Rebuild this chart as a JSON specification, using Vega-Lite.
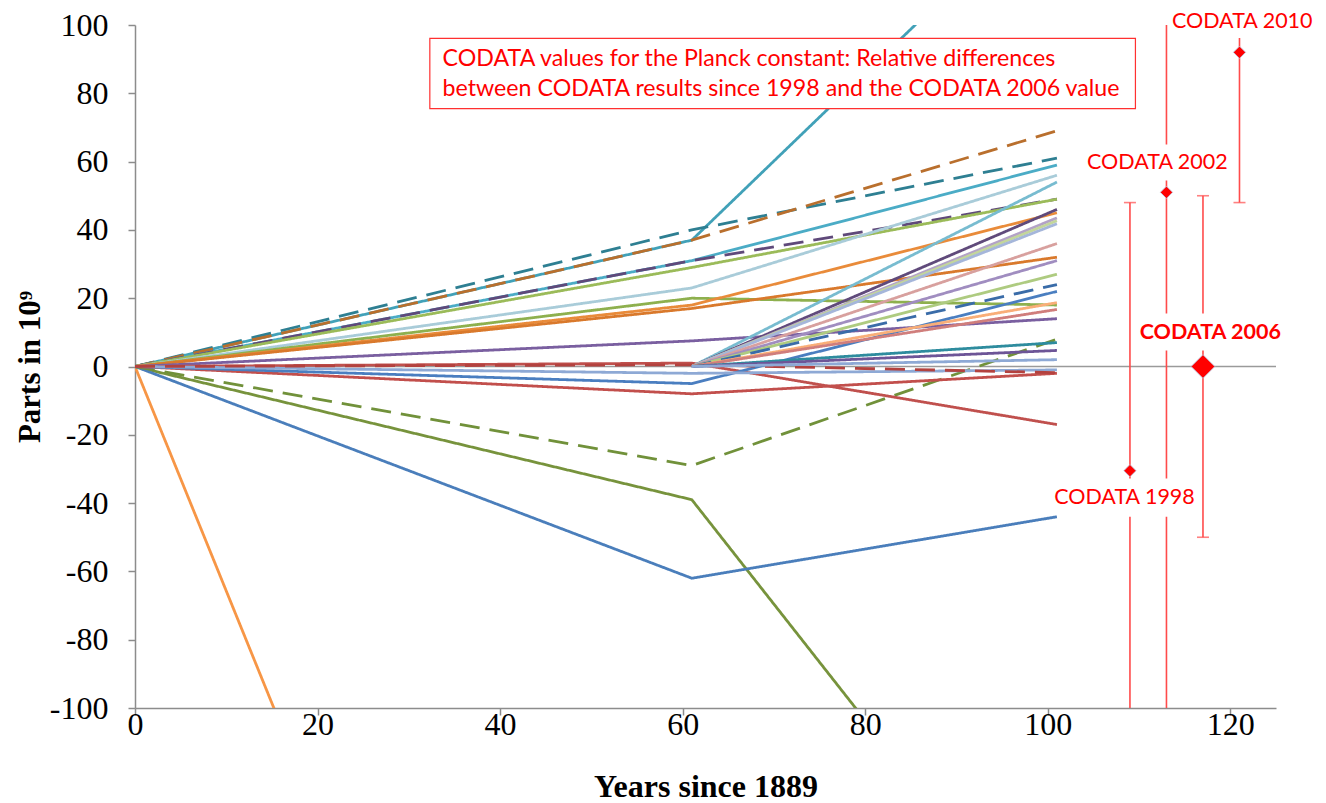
{
  "$schema": "https://vega.github.io/schema/vega-lite/v6.json",
  "autosize": {"type": "none"},
  "padding": {"left": 135, "top": 25, "right": 50, "bottom": 95},
  "width": 1141,
  "height": 683,
  "background": "white",
  "config": {
    "view": {"stroke": null},
    "axis": {
      "domainColor": "#8c8c8c", "tickColor": "#8c8c8c", "domainWidth": 1.5, "tickWidth": 1.5, "tickSize": 7,
      "grid": false, "labelFlush": false, "labelOverlap": false, "labelFont": "Liberation Serif", "labelFontSize": 32, "labelColor": "black",
      "titleFont": "Liberation Serif", "titleFontSize": 31, "titleFontWeight": "bold", "titleColor": "black"
    }
  },
  "datasets": {
    "lines": [
      {"s": "s01", "x": 0, "y": 0}, {"s": "s01", "x": 61, "y": -401},
      {"s": "s02", "x": 0, "y": 0}, {"s": "s02", "x": 61, "y": -39}, {"s": "s02", "x": 101, "y": -175},
      {"s": "s03", "x": 0, "y": 0}, {"s": "s03", "x": 61, "y": -62}, {"s": "s03", "x": 101, "y": -44},
      {"s": "s04", "x": 0, "y": 0}, {"s": "s04", "x": 61, "y": -29}, {"s": "s04", "x": 101, "y": 8},
      {"s": "s05", "x": 0, "y": 0}, {"s": "s05", "x": 61, "y": 37}, {"s": "s05", "x": 101, "y": 140},
      {"s": "s06", "x": 0, "y": 0}, {"s": "s06", "x": 61, "y": 40}, {"s": "s06", "x": 101, "y": 61},
      {"s": "s07", "x": 0, "y": 0}, {"s": "s07", "x": 61, "y": 37}, {"s": "s07", "x": 101, "y": 69},
      {"s": "s08", "x": 0, "y": 0}, {"s": "s08", "x": 61, "y": 31}, {"s": "s08", "x": 101, "y": 59},
      {"s": "s09", "x": 0, "y": 0}, {"s": "s09", "x": 61, "y": 31}, {"s": "s09", "x": 101, "y": 49},
      {"s": "s10", "x": 0, "y": 0}, {"s": "s10", "x": 61, "y": 29}, {"s": "s10", "x": 101, "y": 49},
      {"s": "s11", "x": 0, "y": 0}, {"s": "s11", "x": 61, "y": 23}, {"s": "s11", "x": 101, "y": 56},
      {"s": "s12", "x": 0, "y": 0}, {"s": "s12", "x": 61, "y": 20}, {"s": "s12", "x": 101, "y": 18},
      {"s": "s13", "x": 0, "y": 0}, {"s": "s13", "x": 61, "y": 18}, {"s": "s13", "x": 101, "y": 45},
      {"s": "s14", "x": 0, "y": 0}, {"s": "s14", "x": 61, "y": 17}, {"s": "s14", "x": 101, "y": 32},
      {"s": "s15", "x": 0, "y": 0}, {"s": "s15", "x": 61, "y": 7.5}, {"s": "s15", "x": 101, "y": 14},
      {"s": "s16", "x": 0, "y": 0}, {"s": "s16", "x": 61, "y": 1}, {"s": "s16", "x": 101, "y": -17},
      {"s": "s17", "x": 0, "y": 0}, {"s": "s17", "x": 61, "y": -8}, {"s": "s17", "x": 101, "y": -2},
      {"s": "s18", "x": 0, "y": 0}, {"s": "s18", "x": 61, "y": -5}, {"s": "s18", "x": 101, "y": 22},
      {"s": "s19", "x": 0, "y": 0}, {"s": "s19", "x": 61, "y": -2}, {"s": "s19", "x": 101, "y": -1},
      {"s": "s20", "x": 0, "y": 0}, {"s": "s20", "x": 61, "y": 0.5}, {"s": "s20", "x": 101, "y": -1.8},
      {"s": "s21", "x": 61, "y": 0}, {"s": "s21", "x": 101, "y": 54},
      {"s": "s22", "x": 61, "y": 0}, {"s": "s22", "x": 101, "y": 46},
      {"s": "s23", "x": 61, "y": 0}, {"s": "s23", "x": 101, "y": 43.5},
      {"s": "s24", "x": 61, "y": 0}, {"s": "s24", "x": 101, "y": 42.7},
      {"s": "s25", "x": 61, "y": 0}, {"s": "s25", "x": 101, "y": 41.8},
      {"s": "s26", "x": 61, "y": 0}, {"s": "s26", "x": 101, "y": 36},
      {"s": "s27", "x": 61, "y": 0}, {"s": "s27", "x": 101, "y": 31},
      {"s": "s28", "x": 61, "y": 0}, {"s": "s28", "x": 101, "y": 27},
      {"s": "s29", "x": 61, "y": 0}, {"s": "s29", "x": 101, "y": 24},
      {"s": "s30", "x": 61, "y": 0}, {"s": "s30", "x": 101, "y": 18.7},
      {"s": "s31", "x": 61, "y": 0}, {"s": "s31", "x": 101, "y": 16.7},
      {"s": "s32", "x": 61, "y": 0}, {"s": "s32", "x": 101, "y": 7},
      {"s": "s33", "x": 61, "y": 0}, {"s": "s33", "x": 101, "y": 4.7},
      {"s": "s34", "x": 61, "y": 0}, {"s": "s34", "x": 101, "y": 2}
    ],
    "codata": [
      {"label": "1998", "x": 109, "v": -30.5, "lo": -108, "hi": 48},
      {"label": "2002", "x": 113, "v": 51, "lo": -115, "hi": 217},
      {"label": "2006", "x": 117, "v": 0, "lo": -50, "hi": 50},
      {"label": "2010", "x": 121, "v": 92, "lo": 48, "hi": 136}
    ],
    "boxes": [
      {"x1": 114, "x2": 129, "y1": 96.2, "y2": 106},
      {"x1": 104.3, "x2": 119.8, "y1": 65, "y2": 54.5},
      {"x1": 110, "x2": 126, "y1": 15.5, "y2": 4.7},
      {"x1": 101.5, "x2": 116, "y1": -32.8, "y2": -44}
    ],
    "labels": [
      {"t": "CODATA 2010", "x": 121.3, "y": 100.8, "b": 0},
      {"t": "CODATA 2002", "x": 112, "y": 59.5, "b": 0},
      {"t": "CODATA 2006", "x": 117.8, "y": 9.7, "b": 1},
      {"t": "CODATA 1998", "x": 108.4, "y": -38.6, "b": 0}
    ],
    "titlebox": [{"x1": 32.3, "x2": 109.6, "y1": 96.1, "y2": 75.5}],
    "titletext": [
      {"t": "CODATA values for the Planck constant: Relative differences", "x": 33.7, "y": 89.9},
      {"t": "between CODATA results since 1998 and the CODATA 2006 value", "x": 33.7, "y": 81.4}
    ]
  },
  "layer": [
    {
      "data": {"values": [{"z": 0}]},
      "mark": {"type": "rule", "color": "#9a9a9a", "strokeWidth": 1.5},
      "encoding": {
        "y": {"field": "z", "type": "quantitative", "scale": {"domain": [-100, 100]}}
      }
    },
    {
      "data": {"name": "lines"},
      "mark": {"type": "line", "clip": true, "strokeWidth": 2.8},
      "encoding": {
        "x": {"field": "x", "type": "quantitative", "scale": {"domain": [0, 125], "nice": false},
              "axis": {"values": [0, 20, 40, 60, 80, 100, 120], "title": "Years since 1889", "titleFontSize": 32, "labelPadding": -6, "titlePadding": 31}},
        "y": {"field": "y", "type": "quantitative", "scale": {"domain": [-100, 100], "nice": false},
              "axis": {"values": [-100, -80, -60, -40, -20, 0, 20, 40, 60, 80, 100], "title": "Parts in 10⁹", "titleFontSize": 31,
                       "labelPadding": 20, "titlePadding": 3,
                       "labelExpr": "datum.value < 0 ? '-' + abs(datum.value) : '' + datum.value"}},
        "color": {"field": "s", "type": "nominal", "legend": null,
                  "scale": {"domain": ["s01","s02","s03","s04","s05","s06","s07","s08","s09","s10","s11","s12","s13","s14","s15","s16","s17","s18","s19","s20","s21","s22","s23","s24","s25","s26","s27","s28","s29","s30","s31","s32","s33","s34"],
                            "range": ["#F79646","#77933C","#4A7EBB","#71913A","#41A1B8","#2E7F92","#B96F2D","#4BACC6","#5F497A","#9BBB59","#A9CCD9","#8EB04E","#E98B3A","#D9792C","#7A5FA0","#C0504D","#C24F4C","#4A7EC0","#8EA9D5","#B3423F","#78BCD0","#604A7B","#B3A2C7","#C3D69B","#A5B6DA","#D8A09E","#A08DC0","#AECB80","#3A6CA8","#F9AE78","#D07E7C","#2E8C9E","#6D5597","#8EA9D5"]}},
        "strokeDash": {"field": "s", "type": "nominal", "legend": null,
                  "scale": {"domain": ["s01","s02","s03","s04","s05","s06","s07","s08","s09","s10","s11","s12","s13","s14","s15","s16","s17","s18","s19","s20","s21","s22","s23","s24","s25","s26","s27","s28","s29","s30","s31","s32","s33","s34"],
                            "range": [[1,0],[1,0],[1,0],[20,10],[1,0],[20,10],[20,10],[1,0],[20,10],[1,0],[1,0],[1,0],[1,0],[1,0],[1,0],[1,0],[1,0],[1,0],[1,0],[20,10],[1,0],[1,0],[1,0],[1,0],[1,0],[1,0],[1,0],[1,0],[20,10],[1,0],[1,0],[1,0],[1,0],[1,0]]}}
      }
    },
    {
      "data": {"name": "codata"},
      "mark": {"type": "rule", "clip": true, "color": "#FF4B4B", "strokeWidth": 1.6},
      "encoding": {
        "x": {"field": "x", "type": "quantitative"},
        "y": {"field": "lo", "type": "quantitative"},
        "y2": {"field": "hi"}
      }
    },
    {
      "data": {"name": "codata"},
      "mark": {"type": "tick", "clip": true, "orient": "horizontal", "color": "#FF4B4B", "size": 12, "thickness": 1.6},
      "encoding": {
        "x": {"field": "x", "type": "quantitative"},
        "y": {"field": "lo", "type": "quantitative"}
      }
    },
    {
      "data": {"name": "codata"},
      "mark": {"type": "tick", "clip": true, "orient": "horizontal", "color": "#FF4B4B", "size": 12, "thickness": 1.6},
      "encoding": {
        "x": {"field": "x", "type": "quantitative"},
        "y": {"field": "hi", "type": "quantitative"}
      }
    },
    {
      "data": {"name": "boxes"},
      "mark": {"type": "rect", "fill": "white", "strokeWidth": 0},
      "encoding": {
        "x": {"field": "x1", "type": "quantitative"}, "x2": {"field": "x2"},
        "y": {"field": "y1", "type": "quantitative"}, "y2": {"field": "y2"}
      }
    },
    {
      "data": {"name": "codata"},
      "transform": [{"filter": "datum.label != '2006'"}],
      "mark": {"type": "point", "shape": "diamond", "filled": true, "fill": "#FF0000", "size": 150, "stroke": "#b8cce4", "strokeWidth": 0.8, "opacity": 1},
      "encoding": {
        "x": {"field": "x", "type": "quantitative"},
        "y": {"field": "v", "type": "quantitative"}
      }
    },
    {
      "data": {"name": "codata"},
      "transform": [{"filter": "datum.label == '2006'"}],
      "mark": {"type": "point", "shape": "diamond", "filled": true, "fill": "#FF0000", "size": 560, "stroke": "#b8cce4", "strokeWidth": 0.8, "opacity": 1},
      "encoding": {
        "x": {"field": "x", "type": "quantitative"},
        "y": {"field": "v", "type": "quantitative"}
      }
    },
    {
      "data": {"name": "labels"},
      "transform": [{"filter": "datum.b == 0"}],
      "mark": {"type": "text", "font": "Lato", "fontSize": 21.5, "color": "#FF0000", "align": "center", "baseline": "middle"},
      "encoding": {
        "x": {"field": "x", "type": "quantitative"},
        "y": {"field": "y", "type": "quantitative"},
        "text": {"field": "t"}
      }
    },
    {
      "data": {"name": "labels"},
      "transform": [{"filter": "datum.b == 1"}],
      "mark": {"type": "text", "font": "Lato", "fontSize": 21.5, "fontWeight": "bold", "color": "#FF0000", "align": "center", "baseline": "middle"},
      "encoding": {
        "x": {"field": "x", "type": "quantitative"},
        "y": {"field": "y", "type": "quantitative"},
        "text": {"field": "t"}
      }
    },
    {
      "data": {"name": "titlebox"},
      "mark": {"type": "rect", "fill": "white", "stroke": "#FF3030", "strokeWidth": 1.2},
      "encoding": {
        "x": {"field": "x1", "type": "quantitative"}, "x2": {"field": "x2"},
        "y": {"field": "y1", "type": "quantitative"}, "y2": {"field": "y2"}
      }
    },
    {
      "data": {"name": "titletext"},
      "mark": {"type": "text", "font": "Lato", "fontSize": 23.2, "color": "#FF0000", "align": "left", "baseline": "middle"},
      "encoding": {
        "x": {"field": "x", "type": "quantitative"},
        "y": {"field": "y", "type": "quantitative"},
        "text": {"field": "t"}
      }
    }
  ]
}
